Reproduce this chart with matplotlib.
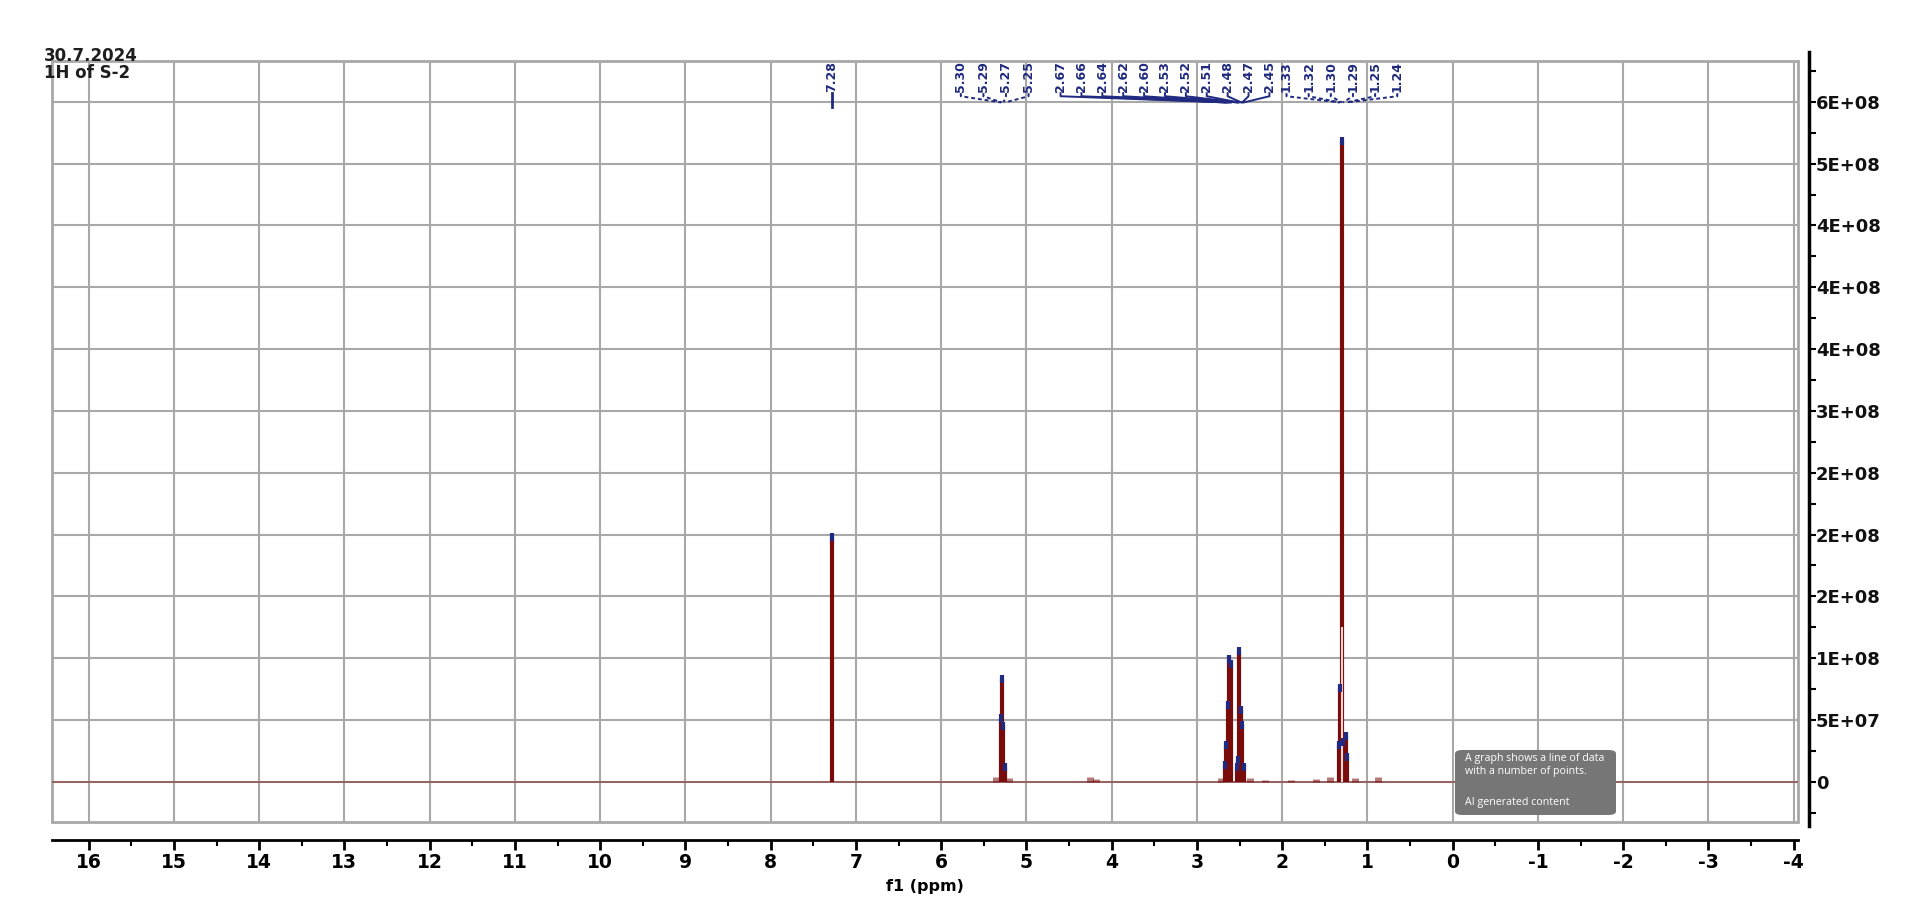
# 1H NMR spectrum of S-2 (30.7.2024), redrawn with matplotlib

import matplotlib
matplotlib.use('Agg')
import matplotlib.pyplot as plt
from matplotlib import font_manager
from matplotlib.patches import Rectangle, FancyBboxPatch
from matplotlib.ticker import MultipleLocator, FixedLocator

# peak picks (ppm) and their heights
peak_ppm = [7.28,
            5.30, 5.29, 5.27, 5.25,
            2.67, 2.66, 2.64, 2.62, 2.60, 2.53, 2.52, 2.51, 2.48, 2.47, 2.45,
            1.33, 1.32, 1.30, 1.29, 1.25, 1.24]
peak_h = [1.98e8,
          5.2e7, 8.3e7, 4.5e7, 1.2e7,
          1.4e7, 3.0e7, 6.2e7, 9.9e7, 9.5e7, 1.2e7, 1.8e7, 1.06e8, 5.8e7, 4.6e7, 1.2e7,
          3.0e7, 7.6e7, 5.18e8, 3.2e7, 3.7e7, 2.0e7]
# pale (saturated) core of the 1.30 peak
core_ppm = 1.30
core_h = 1.25e8

# small humps on the baseline
bump_ppm = [5.36, 5.20, 4.26, 4.18, 2.72, 2.38, 2.20, 1.90, 1.60, 1.44, 1.15, 0.88]
bump_h = [4e6, 3e6, 3.5e6, 2.5e6, 3e6, 3e6, 1.5e6, 1.5e6, 2e6, 4e6, 3e6, 4e6]

y_ticks = [0, 5e7, 1e8, 1.5e8, 2e8, 2.5e8, 3e8, 3.5e8, 4e8, 4.5e8, 5e8, 5.5e8]
y_ticklabels = ['0', '5E+07', '1E+08', '2E+08', '2E+08', '2E+08',
                '3E+08', '4E+08', '4E+08', '4E+08', '5E+08', '6E+08']

# multiplet groups: (first idx, last idx, first label ppm, label step)
groups = [(0, 1, 7.28, 0.0),
          (1, 5, 5.77, 0.265),
          (5, 16, 4.60, 0.245),
          (16, 22, 1.95, 0.26)]

names = {f.name for f in font_manager.fontManager.ttflist}
narrow = 'Liberation Sans Narrow' in names
if narrow:
    tick_font = dict(family='Liberation Sans Narrow', size=16, weight='bold')
    lbl_font = dict(family='Liberation Sans Narrow', size=12, weight='bold')
else:
    tick_font = dict(family='DejaVu Sans', size=13.5, weight='bold')
    lbl_font = dict(family='DejaVu Sans', size=9, weight='bold')

navy = '#1f2a80'
red = '#7a0b0b'
grid_c = '#a8a8a8'

fig = plt.figure(figsize=(19.26, 9.02), dpi=100)
ax = fig.add_axes([52/1926, 1-822/902, 1746/1926, 761/902])
ax.set_xlim(16.43, -4.05)
ax.set_ylim(-3.25e7, 5.83e8)

# grid + frame
ax.xaxis.set_major_locator(MultipleLocator(1))
ax.xaxis.set_minor_locator(MultipleLocator(0.5))
ax.yaxis.set_major_locator(FixedLocator(y_ticks))
ax.yaxis.set_minor_locator(MultipleLocator(2.5e7))
ax.grid(True, which='major', color=grid_c, lw=1.5)
ax.set_axisbelow(True)
ax.add_patch(Rectangle((0, 0), 1, 1, transform=ax.transAxes, fill=False,
                       ec=grid_c, lw=2, clip_on=False, zorder=0.5))

for s in ['top', 'left']:
    ax.spines[s].set_visible(False)
ax.spines['bottom'].set_position(('outward', 13))
ax.spines['bottom'].set_linewidth(2)
ax.spines['right'].set_position(('outward', 8))
ax.spines['right'].set_linewidth(2.5)
ax.spines['right'].set_bounds(-3.6e7, 5.9e8)

ax.yaxis.tick_right()
ax.set_yticklabels(y_ticklabels)
ax.tick_params(axis='x', which='major', direction='out', length=7, width=2, pad=2)
ax.tick_params(axis='x', which='minor', direction='out', length=4, width=1.5)
ax.tick_params(axis='y', which='both', direction='out', length=5, width=1.5, pad=0)
for t in ax.get_yticklabels():
    t.set_fontsize(13)
    t.set_fontweight('bold')
    t.set_color('#111111')
ax.set_xticks(range(16, -5, -1))
ax.set_xticklabels([str(v) for v in range(16, -5, -1)], **tick_font)

xl_font = dict(tick_font)
xl_font['size'] = tick_font['size'] - 2
ax.set_xlabel('f1 (ppm)', labelpad=5, **xl_font)

# spectrum
ax.axhline(0, color='#8b2a2a', lw=1.1, alpha=0.7, zorder=2)
ax.vlines(bump_ppm, 0, bump_h, colors=red, lw=5, alpha=0.55, zorder=2)
ax.vlines(peak_ppm, 0, peak_h, colors=red, lw=3, zorder=3)
ax.vlines(core_ppm, 0, core_h, colors='#f3d6d2', lw=1.5, zorder=3.5)
ax.plot(peak_ppm, peak_h, ls='none', marker='|', ms=6, mew=3,
        color=navy, zorder=4)

# peak labels with brackets
for a, b, start, step in groups:
    for k, i in enumerate(range(a, b)):
        p = peak_ppm[i]
        lx = start - k * step
        ax.text(lx, 5.83e8, '%.2f' % p, rotation=90, ha='center', va='top',
                color=navy, clip_on=False, zorder=5, **lbl_font)
        if step == 0:
            ax.plot([lx, lx], [5.57e8, 5.46e8], color=navy, lw=2, zorder=5)
        else:
            ls = '-' if b - a > 8 else (0, (2, 1.5))
            ax.plot([lx, lx, p], [5.57e8, 5.545e8, 5.495e8], color=navy,
                    lw=1.4, ls=ls, zorder=5)

# header text
fig.text(44/1926, 1-47/902, '30.7.2024\n1H of S-2', ha='left', va='top',
         fontsize=12, fontweight='bold', color='#1e1e1e', linespacing=0.95)

# grey info box
fig.patches.append(FancyBboxPatch((1455/1926, 1-815/902), 161/1926, 65/902,
                                  boxstyle='round,pad=0,rounding_size=0.004',
                                  transform=fig.transFigure, fc='#767676',
                                  ec='none', zorder=10))
fig.text(1465/1926, 1-753/902, 'A graph shows a line of data\nwith a number of points.',
         ha='left', va='top', fontsize=7.7, family='Open Sans', color='white',
         linespacing=1.2, zorder=11)
fig.text(1465/1926, 1-797/902, 'AI generated content', ha='left', va='top',
         fontsize=7.7, family='Open Sans', color='white', zorder=11)

fig.savefig('out.png', dpi=100)
